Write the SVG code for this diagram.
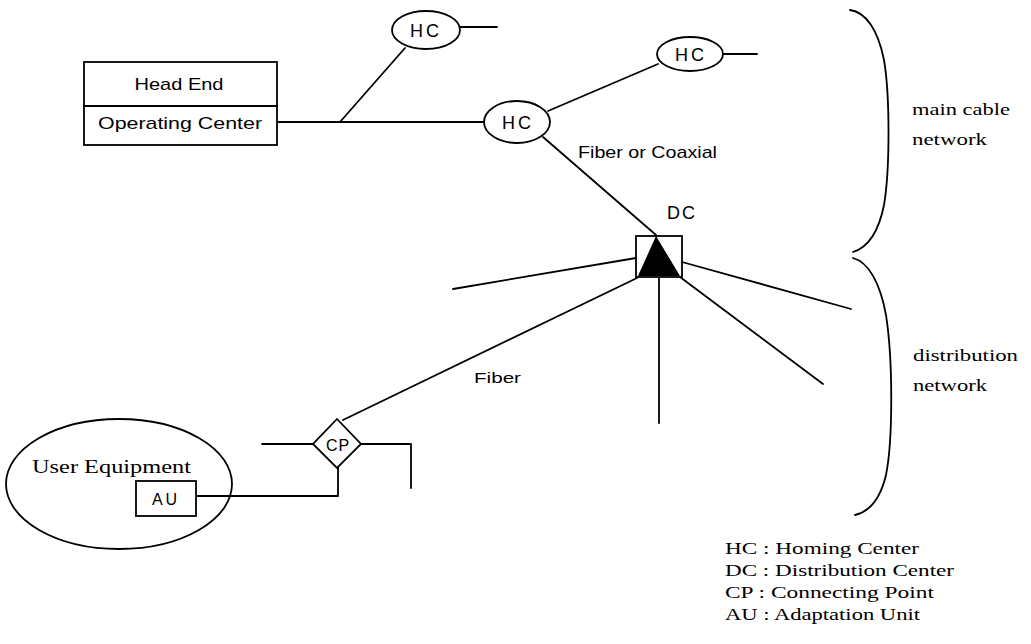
<svg xmlns="http://www.w3.org/2000/svg" width="1031" height="644" viewBox="0 0 1031 644">
<style>
.ln{fill:none;stroke:#000;stroke-width:1.8;stroke-linecap:round;stroke-linejoin:round}
.sh{fill:#fff;stroke:#000;stroke-width:1.8}
.sans{font-family:"Liberation Sans","DejaVu Sans",sans-serif;fill:#000}
.serif{font-family:"Liberation Serif","Times New Roman",serif;fill:#000}
</style>
<rect width="1031" height="644" fill="#fff"/>
<g id="connectors">
<polyline class="ln" points="277,122 340,122 484,122"/>
<line class="ln" x1="340" y1="122" x2="405" y2="48"/>
<line class="ln" x1="460" y1="27" x2="497" y2="27"/>
<line class="ln" x1="548" y1="111" x2="658" y2="64"/>
<line class="ln" x1="723" y1="54" x2="757" y2="54"/>
<line class="ln" x1="543" y1="137" x2="656" y2="235"/>
<line class="ln" x1="636" y1="258" x2="453" y2="289"/>
<line class="ln" x1="637" y1="278" x2="343" y2="420"/>
<line class="ln" x1="659" y1="277" x2="659" y2="423"/>
<line class="ln" x1="680" y1="277" x2="823" y2="384"/>
<line class="ln" x1="682" y1="262" x2="851" y2="309"/>
<line class="ln" x1="262" y1="444" x2="313" y2="444"/>
<polyline class="ln" points="361,444 411,444 411,488"/>
<polyline class="ln" points="338,467 338,496 196,496"/>
</g>
<g id="head-end">
<rect class="sh" x="84" y="62" width="193" height="83"/>
<line class="ln" x1="84" y1="106" x2="277" y2="106"/>
<text class="sans" x="179" y="90" font-size="17" text-anchor="middle" textLength="89" lengthAdjust="spacingAndGlyphs">Head End</text>
<text class="sans" x="180" y="129" font-size="17" text-anchor="middle" textLength="164" lengthAdjust="spacingAndGlyphs">Operating Center</text>
</g>
<g id="hc-top">
<ellipse class="sh" cx="426" cy="30" rx="34" ry="19"/>
<text class="sans" x="426" y="37" font-size="18" text-anchor="middle" letter-spacing="3">HC</text>
</g>
<g id="hc-main">
<ellipse class="sh" cx="517" cy="122" rx="33" ry="21"/>
<text class="sans" x="518" y="129" font-size="18" text-anchor="middle" letter-spacing="3">HC</text>
</g>
<g id="hc-right">
<ellipse class="sh" cx="690" cy="54" rx="33" ry="17"/>
<text class="sans" x="691" y="61" font-size="18" text-anchor="middle" letter-spacing="3">HC</text>
</g>
<g id="dc">
<rect class="sh" x="636" y="236" width="46" height="41"/>
<polygon points="656,236 638,276 680,276" fill="#000"/>
<text class="sans" x="682" y="219" font-size="18" text-anchor="middle" letter-spacing="2">DC</text>
</g>
<g id="cp">
<polygon class="sh" points="337,419 361,444 337,468 313,444"/>
<text class="sans" x="338" y="451" font-size="16" text-anchor="middle" letter-spacing="1">CP</text>
</g>
<g id="user-equipment">
<ellipse class="ln" cx="119" cy="484" rx="113" ry="65"/>
<text class="serif" x="32" y="473" font-size="18" textLength="159" lengthAdjust="spacingAndGlyphs">User Equipment</text>
</g>
<g id="au">
<rect class="sh" x="136" y="481" width="60" height="35"/>
<text class="sans" x="166" y="505" font-size="16" text-anchor="middle" letter-spacing="3">AU</text>
</g>
<g id="labels">
<text class="sans" x="578" y="158" font-size="17" textLength="139" lengthAdjust="spacingAndGlyphs">Fiber or Coaxial</text>
<text class="sans" x="474" y="383" font-size="15" textLength="47" lengthAdjust="spacingAndGlyphs">Fiber</text>
</g>
<g id="brackets">
<path class="ln" d="M850,10 C866,12 878,30 884,60 C890,95 890,170 884,205 C878,235 866,248 853,252"/>
<path class="ln" d="M853,258 C868,262 880,282 886,315 C893,360 893,440 886,475 C880,500 868,512 855,515"/>
<text class="serif" x="912" y="115" font-size="17" textLength="98" lengthAdjust="spacingAndGlyphs">main cable</text>
<text class="serif" x="912" y="145" font-size="17" textLength="75" lengthAdjust="spacingAndGlyphs">network</text>
<text class="serif" x="913" y="361" font-size="17" textLength="105" lengthAdjust="spacingAndGlyphs">distribution</text>
<text class="serif" x="913" y="391" font-size="17" textLength="74" lengthAdjust="spacingAndGlyphs">network</text>
</g>
<g id="legend">
<text class="serif" x="725" y="554" font-size="16" textLength="194" lengthAdjust="spacingAndGlyphs">HC : Homing Center</text>
<text class="serif" x="725" y="576" font-size="16" textLength="229" lengthAdjust="spacingAndGlyphs">DC : Distribution Center</text>
<text class="serif" x="725" y="598" font-size="16" textLength="209" lengthAdjust="spacingAndGlyphs">CP : Connecting Point</text>
<text class="serif" x="725" y="620" font-size="16" textLength="195" lengthAdjust="spacingAndGlyphs">AU : Adaptation Unit</text>
</g>
</svg>
